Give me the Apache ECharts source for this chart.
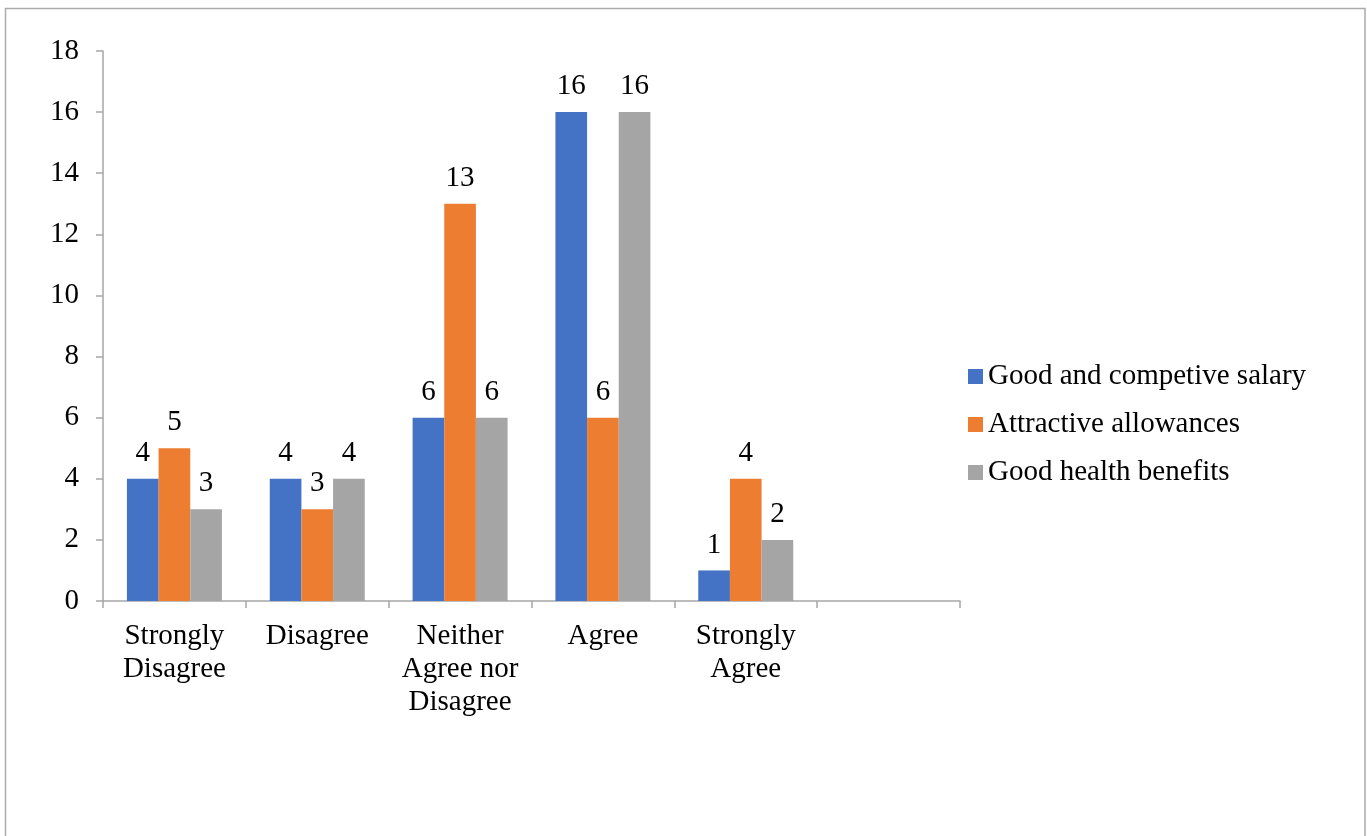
<!DOCTYPE html>
<html>
<head>
<meta charset="utf-8">
<title>Salary and benefits survey responses</title>
<script src="https://cdn.jsdelivr.net/npm/echarts@6/dist/echarts.min.js"></script>
<style>
  html, body { margin: 0; padding: 0; background: #ffffff; }
  #chart { width: 1367px; height: 836px; }
</style>
</head>
<body>
<div id="chart"></div>
<script>
// Response scale (the sixth slot is an empty category, as in the original layout)
const categories = ['Strongly\nDisagree', 'Disagree', 'Neither\nAgree nor\nDisagree', 'Agree', 'Strongly\nAgree', ''];

const seriesNames = ['Good and competive salary', 'Attractive allowances', 'Good health benefits'];
const salaryValues     = [4, 4, 6, 16, 1];
const allowanceValues  = [5, 3, 13, 6, 4];
const healthValues     = [3, 4, 6, 16, 2];

const yTicks = { min: 0, max: 18, interval: 2 };

const colors = ['#4472C4', '#ED7D31', '#A5A5A5'];
const FONT = 'Liberation Serif';
const AXIS_GRAY = '#A6A6A6';

function barSeries(name, values, color) {
  return {
    name: name,
    type: 'bar',
    data: values,
    barGap: '0%',
    barCategoryGap: '33.5%',
    itemStyle: { color: color },
    label: {
      show: true,
      position: 'top',
      distance: 11,
      fontFamily: FONT,
      fontSize: 29,
      lineHeight: 29,
      color: '#000000'
    }
  };
}

const chart = echarts.init(document.getElementById('chart'), null, { renderer: 'canvas' });

chart.setOption({
  animation: false,
  backgroundColor: '#ffffff',
  graphic: [{
    type: 'rect',
    shape: { x: 5.5, y: 8.5, width: 1359.5, height: 1000 },
    style: { fill: 'none', stroke: '#ABABAB', lineWidth: 1.5 },
    silent: true
  }],
  grid: { left: 103, right: 407, top: 51, bottom: 235, containLabel: false },
  legend: {
    orient: 'vertical',
    left: 963,
    top: 357,
    itemWidth: 15,
    itemHeight: 15,
    itemGap: 19,
    icon: 'rect',
    data: seriesNames,
    textStyle: {
      fontFamily: FONT,
      fontSize: 29,
      lineHeight: 29,
      color: '#000000'
    }
  },
  xAxis: {
    type: 'category',
    data: categories,
    boundaryGap: true,
    axisLine: { show: true, lineStyle: { color: AXIS_GRAY, width: 1.5 } },
    axisTick: { show: true, length: 7, lineStyle: { color: AXIS_GRAY, width: 1.5 } },
    axisLabel: {
      interval: 0,
      margin: 19,
      fontFamily: FONT,
      fontSize: 29,
      lineHeight: 33,
      color: '#000000',
      align: 'center'
    },
    splitLine: { show: false }
  },
  yAxis: {
    type: 'value',
    min: yTicks.min,
    max: yTicks.max,
    interval: yTicks.interval,
    axisLine: { show: true, lineStyle: { color: AXIS_GRAY, width: 1.5 } },
    axisTick: { show: true, length: 7, lineStyle: { color: AXIS_GRAY, width: 1.5 } },
    axisLabel: {
      margin: 24,
      fontFamily: FONT,
      fontSize: 29,
      color: '#000000'
    },
    splitLine: { show: false }
  },
  series: [
    barSeries(seriesNames[0], salaryValues, colors[0]),
    barSeries(seriesNames[1], allowanceValues, colors[1]),
    barSeries(seriesNames[2], healthValues, colors[2])
  ]
});
</script>
</body>
</html>
